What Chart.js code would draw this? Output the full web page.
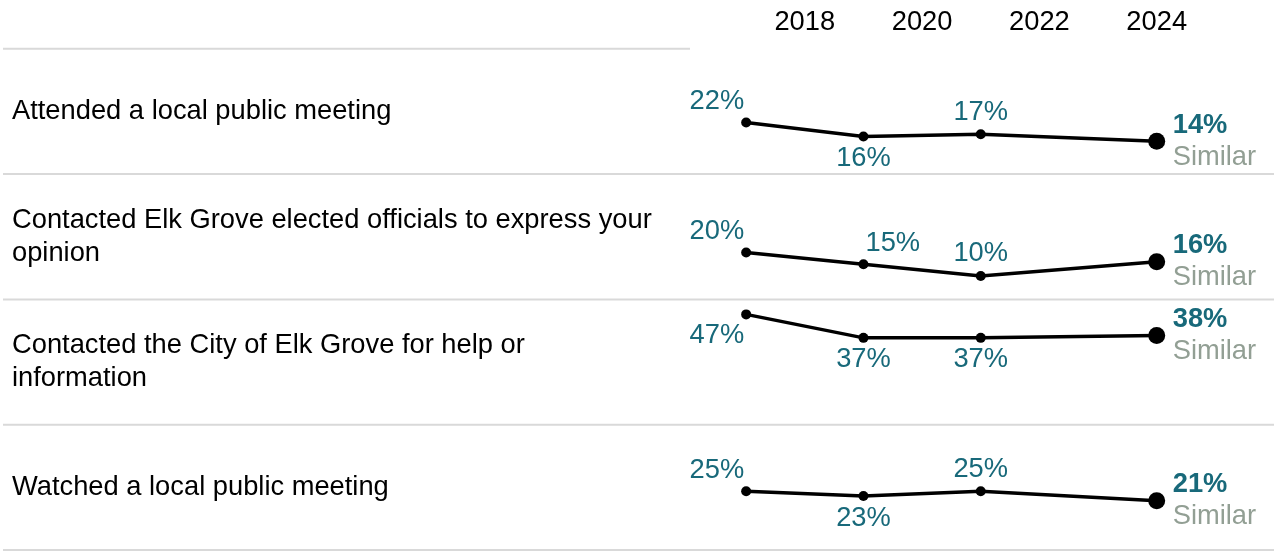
<!DOCTYPE html>
<html>
<head>
<meta charset="utf-8">
<script src="https://cdn.jsdelivr.net/npm/chart.js@4.4.1/dist/chart.umd.min.js"></script>
<style>
  html, body { margin: 0; padding: 0; background: #fff; }
  #wrap { width: 1274px; height: 551px; }
</style>
</head>
<body>
<div id="wrap"><canvas id="trend" width="1274" height="551"></canvas></div>
<script>
// row labels (already broken into lines like the original)
var categories = [
    ['Attended a local public meeting'],
    ['Contacted Elk Grove elected officials to express your', 'opinion'],
    ['Contacted the City of Elk Grove for help or', 'information'],
    ['Watched a local public meeting']
];
var surveyYears = [2017, 2019, 2021, 2024];
var headerYears = [2018, 2020, 2022, 2024];

var attendedMeeting = [22, 16, 17, 14];
var contactedOfficials = [20, 15, 10, 16];
var contactedCity = [47, 37, 37, 38];
var watchedMeeting = [25, 23, 25, 21];
var comparison = ['Similar', 'Similar', 'Similar', 'Similar'];

var rows = [attendedMeeting, contactedOfficials, contactedCity, watchedMeeting];

// where each value label sits next to its point
var labelSpots = [
    ['leftUp', 'below', 'above', 'end'],
    ['leftUp', 'rightUp', 'above', 'end'],
    ['leftDown', 'below', 'below', 'end'],
    ['leftUp', 'below', 'above', 'end']
];

var teal = '#18697a';
var grey = '#929f94';
var ruleColor = '#d9d9d9';
var fontFamily = '"Liberation Sans", Arial, sans-serif';
var fontSize = 27.3;

var datasets = rows.map(function (vals, r) {
    return {
        label: categories[r].join(' '),
        data: surveyYears.map(function (yr, i) { return { x: yr, y: vals[i] }; }),
        yAxisID: 'y' + r,
        borderColor: '#000',
        backgroundColor: '#000',
        borderWidth: 3.5,
        pointRadius: [5, 5, 5, 8.5],
        pointBorderWidth: 0,
        pointBackgroundColor: '#000',
        tension: 0,
        clip: false
    };
});

var scales = {
    x: {
        type: 'linear',
        position: 'top',
        min: 2016,
        max: 2026,
        afterBuildTicks: function (axis) {
            axis.ticks = headerYears.map(function (v) { return { value: v }; });
        },
        ticks: {
            autoSkip: false,
            maxRotation: 0,
            padding: 10,
            color: '#000',
            font: { family: fontFamily, size: fontSize },
            callback: function (v) { return String(v); }
        },
        grid: { display: false, drawTicks: false },
        border: { display: false }
    }
};
rows.forEach(function (vals, r) {
    scales['y' + r] = {
        type: 'linear',
        position: 'left',
        stack: 'rows',
        stackWeight: 1,
        weight: rows.length - r,
        min: 0,
        max: 53.4,
        display: false
    };
});

var rowPlugin = {
    id: 'rowPlugin',
    beforeDraw: function (chart) {
        var ctx = chart.ctx;
        var area = chart.chartArea;
        ctx.save();
        ctx.strokeStyle = ruleColor;
        ctx.lineWidth = 2;
        ctx.beginPath();
        ctx.moveTo(3, area.top);
        ctx.lineTo(690, area.top);
        ctx.stroke();

        ctx.font = fontSize + 'px ' + fontFamily;
        ctx.fillStyle = '#000';
        ctx.textAlign = 'left';
        ctx.textBaseline = 'middle';
        categories.forEach(function (lines, r) {
            var ys = chart.scales['y' + r];
            ctx.beginPath();
            ctx.moveTo(3, ys.bottom);
            ctx.lineTo(chart.width, ys.bottom);
            ctx.stroke();
            var mid = (ys.top + ys.bottom) / 2;
            var lh = 33;
            var start = mid - (lines.length - 1) * lh / 2;
            lines.forEach(function (t, k) {
                ctx.fillText(t, 12, start + k * lh);
            });
        });
        ctx.restore();
    },
    afterDatasetsDraw: function (chart) {
        var ctx = chart.ctx;
        ctx.save();
        ctx.textBaseline = 'middle';
        rows.forEach(function (vals, r) {
            var pts = chart.getDatasetMeta(r).data;
            pts.forEach(function (p, i) {
                var txt = vals[i] + '%';
                var spot = labelSpots[r][i];
                ctx.fillStyle = teal;
                ctx.font = fontSize + 'px ' + fontFamily;
                if (spot === 'leftUp' || spot === 'leftDown') {
                    ctx.textAlign = 'right';
                    ctx.fillText(txt, p.x - 2, p.y + (spot === 'leftUp' ? -21 : 21));
                } else if (spot === 'rightUp') {
                    ctx.textAlign = 'left';
                    ctx.fillText(txt, p.x + 2, p.y - 21);
                } else if (spot === 'above' || spot === 'below') {
                    ctx.textAlign = 'center';
                    ctx.fillText(txt, p.x, p.y + (spot === 'above' ? -22 : 22));
                } else {
                    ctx.textAlign = 'left';
                    ctx.font = 'bold ' + fontSize + 'px ' + fontFamily;
                    ctx.fillText(txt, p.x + 16, p.y - 16);
                    ctx.font = fontSize + 'px ' + fontFamily;
                    ctx.fillStyle = grey;
                    ctx.fillText(comparison[r], p.x + 16, p.y + 16);
                }
            });
        });
        ctx.restore();
    }
};

var chart = new Chart(document.getElementById('trend').getContext('2d'), {
    type: 'line',
    data: { datasets: datasets },
    options: {
        responsive: false,
        animation: false,
        layout: { autoPadding: false, padding: { left: 687.5, right: 0, top: -4, bottom: 1 } },
        plugins: { legend: { display: false }, tooltip: { enabled: false } },
        scales: scales
    },
    plugins: [rowPlugin]
});
</script>
</body>
</html>
